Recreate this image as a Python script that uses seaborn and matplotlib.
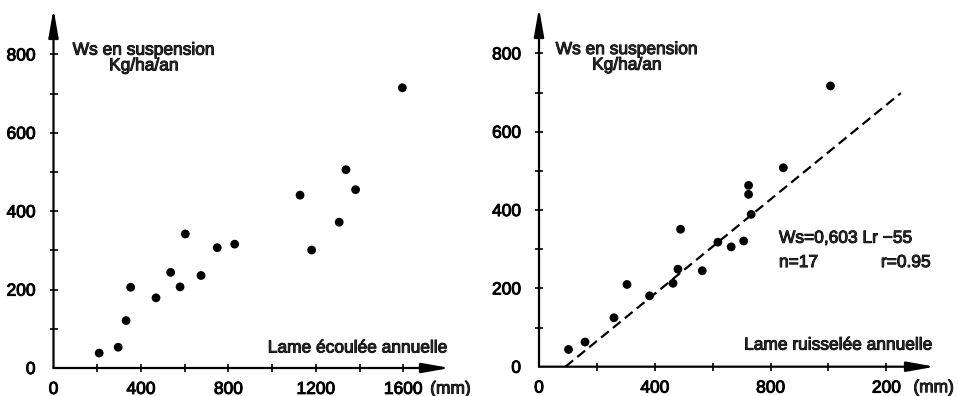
import numpy as np
import matplotlib
matplotlib.use("Agg")
import matplotlib.pyplot as plt
import matplotlib.patheffects as pe
from matplotlib.ticker import FixedLocator
import seaborn as sns

# Lame écoulée annuelle (mm) et transport solide en suspension Ws (kg/ha/an)
lame_ecoulee = [209, 296, 332, 353, 469, 536, 579, 603, 675, 749, 829,
                1128, 1181, 1307, 1338, 1382, 1596]
ws_ecoulee = [38, 53, 121, 206, 179, 244, 207, 342, 236, 307, 316,
              441, 301, 372, 506, 455, 715]

# Lame ruisselée annuelle (mm) et Ws (kg/ha/an)
lame_ruisselee = [102, 159, 259, 304, 382, 463, 480, 489, 564, 618, 664,
                  707, 724, 724, 733, 844, 1007]
ws_ruisselee = [44, 63, 125, 210, 181, 213, 249, 351, 245, 318, 306,
                321, 463, 440, 389, 508, 717]

# Droite de régression Ws = a Lr + b
pente = 0.603
ordonnee = -55
n_obs = 17
r_coef = 0.95
lr_fin = 1250

y_ticks = [0, 200, 400, 600, 800]
y_minor = [100, 300, 500, 700]
x_ticks_left = [0, 400, 800, 1200, 1600]
x_labels_left = ["0", "400", "800", "1200", "1600"]
x_minor_left = [200, 600, 1000, 1400]
x_ticks_right = [0, 400, 800, 1200]
x_labels_right = ["0", "400", "800", "200"]
x_minor_right = [200, 600, 1000]

FS = 12.5
EPAIS = [pe.withStroke(linewidth=0.7, foreground="black")]

sns.set_style("white")
plt.rcParams["font.family"] = ["Liberation Sans", "DejaVu Sans"]

fig = plt.figure(figsize=(9.58, 3.96), dpi=100)
ax1 = fig.add_axes([0.05585, 0.07071, 0.41388, 0.90657])
ax2 = fig.add_axes([0.56263, 0.07399, 0.41336, 0.90581])


def habiller(ax, xmax, ymax, xt, xl, xm, last_tick):
    ax.set_xlim(0, xmax)
    ax.set_ylim(0, ymax)
    for s in ax.spines.values():
        s.set_visible(False)
    arrow = dict(arrowstyle="-|>,head_length=1.7,head_width=0.3",
                 lw=1.6, color="black", shrinkA=0, shrinkB=0,
                 mutation_scale=10)
    ax.annotate("", xy=(1, 0), xytext=(0, 0), xycoords="axes fraction",
                arrowprops=arrow, annotation_clip=False)
    ax.annotate("", xy=(0, 1), xytext=(0, 0), xycoords="axes fraction",
                arrowprops=arrow, annotation_clip=False)
    ax.xaxis.set_major_locator(FixedLocator(xt))
    ax.set_xticklabels(xl)
    ax.xaxis.set_minor_locator(FixedLocator(xm))
    ax.yaxis.set_major_locator(FixedLocator(y_ticks))
    ax.set_yticklabels([str(v) for v in y_ticks])
    ax.yaxis.set_minor_locator(FixedLocator(y_minor))
    ax.tick_params(which="both", direction="inout", length=6, width=1.2,
                   color="black", bottom=True, left=True, labelsize=FS,
                   labelcolor="black")
    ax.tick_params(axis="x", pad=7)
    ax.tick_params(axis="y", pad=10)
    ax.xaxis.get_major_ticks()[0].tick1line.set_visible(False)
    ax.yaxis.get_major_ticks()[0].tick1line.set_visible(False)
    for lab in ax.get_xticklabels() + ax.get_yticklabels():
        lab.set_path_effects(EPAIS)
    ax.annotate("(mm)", xy=(last_tick, 0), xycoords="data",
                xytext=(27, -21), textcoords="offset pixels",
                ha="left", va="center", fontsize=FS, annotation_clip=False,
                path_effects=EPAIS)


habiller(ax1, 1814, 916, x_ticks_left, x_labels_left, x_minor_left, 1600)
habiller(ax2, 1368, 916, x_ticks_right, x_labels_right, x_minor_right, 1200)

sns.scatterplot(x=lame_ecoulee, y=ws_ecoulee, ax=ax1, color="black",
                s=40, edgecolor="none", clip_on=False)
sns.scatterplot(x=lame_ruisselee, y=ws_ruisselee, ax=ax2, color="black",
                s=40, edgecolor="none", clip_on=False)

lr = np.array([-ordonnee / pente, lr_fin])
ax2.plot(lr, pente * lr + ordonnee, color="black", lw=1.6,
         dashes=(4.5, 2.4))

txt = dict(fontsize=FS, path_effects=EPAIS)
ax1.text(414, 791, "Ws en suspension\nKg/ha/an", ha="center", va="center",
         linespacing=1.05, multialignment="center", **txt)
ax2.text(304, 790, "Ws en suspension\nKg/ha/an", ha="center", va="center",
         linespacing=1.05, multialignment="center", **txt)

ax1.text(1805, 51, "Lame écoulée annuelle", ha="right", va="center", **txt)
ax2.text(1361, 55, "Lame ruisselée annuelle", ha="right", va="center", **txt)

ax2.text(829, 328, f"Ws={pente:.3f} Lr \u2212{-ordonnee}".replace(".", ","),
         ha="left", va="center", **txt)
ax2.text(829, 266, f"n={n_obs}", ha="left", va="center", **txt)
ax2.text(1354, 266, f"r={r_coef}", ha="right", va="center", **txt)

fig.savefig("out.png", dpi=100)
